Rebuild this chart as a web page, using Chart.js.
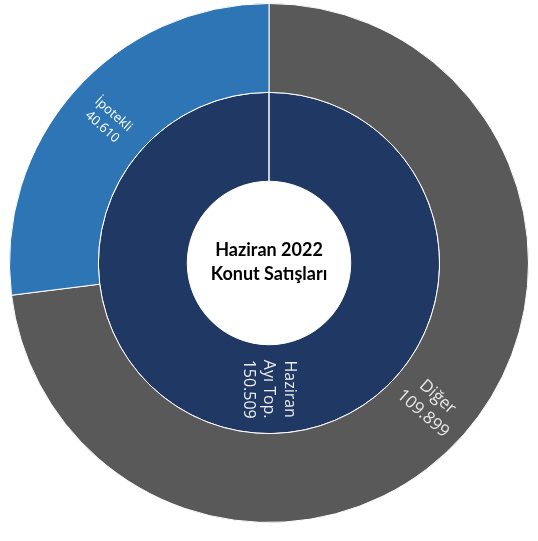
<!DOCTYPE html>
<html lang="tr">

<head>
    <meta charset="UTF-8" />
    <title>Haziran 2022 Konut Satışları</title>
    <script src="https://cdn.jsdelivr.net/npm/chart.js"></script>
    <style>
        html, body {
            margin: 0;
            padding: 0;
            background-color: #ffffff;
        }

        #wrap {
            width: 538px;
            height: 541px;
        }
    </style>
</head>

<body>
    <div id="wrap">
        <canvas id="salesChart" width="538" height="541"></canvas>
    </div>

    <script>
        // outer ring: split of the month's total
        const outerLabels = ['Diğer', 'İpotekli'];
        const outerValues = [109899, 40610];
        // inner ring: month total
        const innerLabels = ['Haziran Ayı Top.'];
        const innerValues = [150509];
        const centerLines = ['Haziran 2022', 'Konut Satışları'];

        const outerColors = ['#595959', '#2E75B6'];
        const innerColors = ['#203864'];

        const fmt = v => v.toLocaleString('de-DE');

        // label lines per ring, font size per segment
        const labelStyle = {
            0: { size: [17, 13], color: ['#e8e8e8', '#ffffff'], lines: i => [outerLabels[i], fmt(outerValues[i])] },
            1: { size: [16], color: ['#eeeeee'], lines: i => ['Haziran', 'Ayı Top.', fmt(innerValues[i])] }
        };

        // radial labels like the office chart
        const radialLabels = {
            id: 'radialLabels',
            afterDatasetsDraw(chart) {
                const ctx = chart.ctx;
                chart.data.datasets.forEach((ds, di) => {
                    const meta = chart.getDatasetMeta(di);
                    const st = labelStyle[di];
                    meta.data.forEach((arc, i) => {
                        const p = arc.getProps(['x', 'y', 'startAngle', 'endAngle', 'innerRadius', 'outerRadius'], true);
                        const mid = (p.startAngle + p.endAngle) / 2;
                        const r = (p.innerRadius + p.outerRadius) / 2;
                        const cx = p.x + Math.cos(mid) * r;
                        const cy = p.y + Math.sin(mid) * r;
                        let rot = Math.atan2(Math.sin(mid), Math.cos(mid));
                        if (Math.abs(rot) > Math.PI / 2 + 0.001) rot += Math.PI;
                        const size = st.size[i];
                        const lines = st.lines(i);
                        const lh = size * 1.3;
                        ctx.save();
                        ctx.translate(cx, cy);
                        ctx.rotate(rot);
                        ctx.fillStyle = st.color[i];
                        ctx.font = size + 'px "Open Sans", sans-serif';
                        ctx.textAlign = 'center';
                        ctx.textBaseline = 'middle';
                        lines.forEach((t, k) => {
                            ctx.fillText(t, 0, (k - (lines.length - 1) / 2) * lh);
                        });
                        ctx.restore();
                    });
                });
            }
        };

        const centerText = {
            id: 'centerText',
            afterDraw(chart) {
                const ctx = chart.ctx;
                const a = chart.chartArea;
                const x = (a.left + a.right) / 2;
                const y = (a.top + a.bottom) / 2;
                ctx.save();
                ctx.fillStyle = '#000000';
                ctx.font = 'bold 18px Lato, sans-serif';
                ctx.textAlign = 'center';
                ctx.textBaseline = 'middle';
                ctx.fillText(centerLines[0], x, y - 13);
                ctx.fillText(centerLines[1], x, y + 11);
                ctx.restore();
            }
        };

        const ctx = document.getElementById('salesChart').getContext('2d');
        new Chart(ctx, {
            type: 'doughnut',
            data: {
                labels: outerLabels,
                datasets: [
                    {
                        label: 'Satış',
                        data: outerValues,
                        backgroundColor: outerColors,
                        borderColor: '#ffffff',
                        borderWidth: 1
                    },
                    {
                        label: 'Toplam',
                        data: innerValues,
                        backgroundColor: innerColors,
                        borderColor: '#ffffff',
                        borderWidth: 1
                    }
                ]
            },
            options: {
                responsive: false,
                animation: false,
                cutout: '31.5%',
                layout: {
                    padding: { left: 9, right: 9, top: 3, bottom: 18 }
                },
                plugins: {
                    legend: { display: false },
                    tooltip: { enabled: false }
                }
            },
            plugins: [radialLabels, centerText]
        });
    </script>
</body>

</html>
